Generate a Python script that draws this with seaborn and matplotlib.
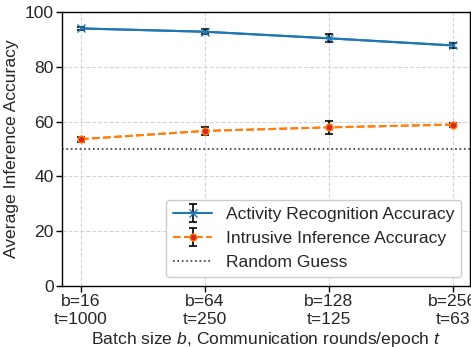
import matplotlib
matplotlib.use("Agg")
import matplotlib.pyplot as plt
import seaborn as sns
import numpy as np

batch_sizes = [16, 64, 128, 256]
rounds = [1000, 250, 125, 63]
activity_acc = [94.0, 92.8, 90.4, 87.8]
activity_err = [0.6, 1.0, 1.5, 1.0]
intrusive_acc = [53.6, 56.6, 57.9, 58.9]
intrusive_err = [0.9, 1.5, 2.4, 0.7]
random_guess = 50

sns.set_theme(style="whitegrid")
plt.rcParams["font.family"] = ["Liberation Sans", "DejaVu Sans"]
plt.rcParams["mathtext.fontset"] = "custom"
plt.rcParams["mathtext.it"] = "Liberation Sans:italic"
plt.rcParams["mathtext.rm"] = "Liberation Sans"

FS = 12.6

fig = plt.figure(figsize=(4.71, 3.47), dpi=100)
ax = fig.add_axes([62 / 471, 61 / 347, 408 / 471, 274 / 347])

pos = np.arange(len(batch_sizes))
tick_labels = [f"b={b}\nt={t}" for b, t in zip(batch_sizes, rounds)]

sns.lineplot(x=pos, y=activity_acc, ax=ax, color="#1f77b4", lw=1.5, legend=False)
sns.lineplot(x=pos, y=intrusive_acc, ax=ax, color="#ff7f0e", lw=1.5,
             linestyle="--", legend=False)

h1 = ax.errorbar(pos, activity_acc, yerr=activity_err, fmt="-x", color="#1f77b4",
                 ecolor="black", elinewidth=1.2, capsize=3, capthick=1.2,
                 markersize=6, lw=1.5, label="Activity Recognition Accuracy")
h2 = ax.errorbar(pos, intrusive_acc, yerr=intrusive_err, fmt="--o", color="#ff7f0e",
                 markerfacecolor="#d62728", markeredgecolor="#ff7f0e",
                 ecolor="black", elinewidth=1.2, capsize=3, capthick=1.2,
                 markersize=5, lw=1.5, label="Intrusive Inference Accuracy")
h3 = ax.axhline(random_guess, color="#333333", linestyle=":", lw=1.2,
                label="Random Guess")

ax.set_xlim(-0.153, 3.14)
ax.set_ylim(0, 100)
ax.set_xticks(pos)
ax.set_xticklabels(tick_labels, fontsize=FS)
ax.set_yticks([0, 20, 40, 60, 80, 100])
ax.tick_params(axis="y", labelsize=FS)
ax.tick_params(axis="both", which="major", direction="out", length=4,
               width=1, color="black", bottom=True, left=True, pad=2)
ax.set_ylabel("Average Inference Accuracy", fontsize=FS)
ax.set_xlabel("Batch size $b$, Communication rounds/epoch $t$", fontsize=FS,
              labelpad=2)

ax.grid(True, linestyle="--", color="#d5d5d5", lw=0.8)
for s in ax.spines.values():
    s.set_color("black")
    s.set_linewidth(1.0)

ax.legend(handles=[h1, h2, h3], loc="lower right", fontsize=FS, frameon=True,
          framealpha=1, edgecolor="#cccccc", handlelength=2.2,
          borderaxespad=0.5)

fig.savefig("out.png", dpi=100)
